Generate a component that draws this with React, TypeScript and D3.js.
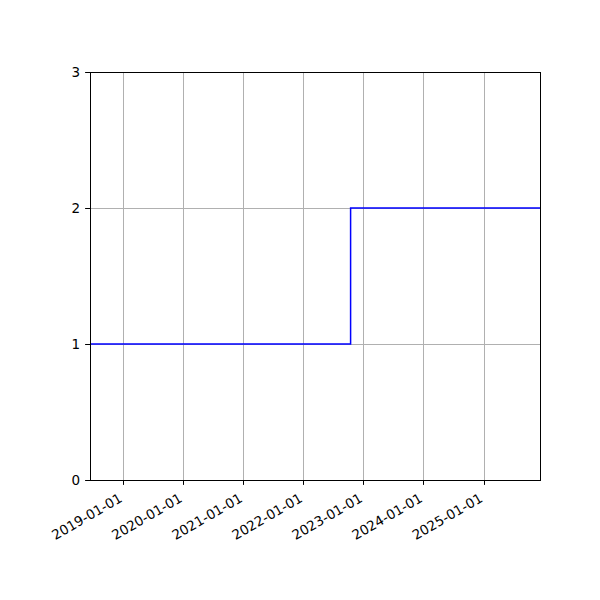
import { useEffect, useRef } from "react";
import * as d3 from "d3";

// step data (value holds until next date)
const dates = ["2018-06-10", "2022-10-12", "2025-12-07"];
const values = [1, 2, 2];
const xTickLabels = [
  "2019-01-01",
  "2020-01-01",
  "2021-01-01",
  "2022-01-01",
  "2023-01-01",
  "2024-01-01",
  "2025-01-01",
];
const yTicks = [0, 1, 2, 3];

export default function App() {
  const ref = useRef<SVGSVGElement>(null);

  useEffect(() => {
    if (!ref.current) return;
    const width = 600;
    const height = 600;
    const m = { left: 90, right: 60, top: 72, bottom: 120 };
    const font = "DejaVu Sans, sans-serif";
    const fs = 13.5;
    const snap = (v: number) => Math.round(v - 0.5) + 0.5;

    const svg = d3.select(ref.current);
    svg.selectAll("*").remove();
    svg.attr("width", width).attr("height", height);

    const parse = d3.utcParse("%Y-%m-%d");
    const pts = dates.map((d, i) => ({ t: parse(d)!, v: values[i] }));
    const tickDates = xTickLabels.map((d) => parse(d)!);

    const x = d3
      .scaleUtc()
      .domain([pts[0].t, pts[pts.length - 1].t])
      .range([m.left, width - m.right]);
    const y = d3.scaleLinear().domain([0, 3]).range([height - m.bottom, m.top]);

    svg.append("rect").attr("width", width).attr("height", height).attr("fill", "#fff");

    const grid = svg.append("g").attr("stroke", "#b0b0b0").attr("stroke-width", 1);
    grid
      .selectAll("line.gx")
      .data(tickDates)
      .join("line")
      .attr("class", "gx")
      .attr("x1", (d) => snap(x(d)))
      .attr("x2", (d) => snap(x(d)))
      .attr("y1", y(0))
      .attr("y2", y(3));
    grid
      .selectAll("line.gy")
      .data(yTicks)
      .join("line")
      .attr("class", "gy")
      .attr("x1", m.left)
      .attr("x2", width - m.right)
      .attr("y1", (d) => snap(y(d)))
      .attr("y2", (d) => snap(y(d)));

    const line = d3
      .line<{ t: Date; v: number }>()
      .x((d) => x(d.t))
      .y((d) => y(d.v))
      .curve(d3.curveStepAfter);

    svg
      .append("path")
      .datum(pts)
      .attr("d", line)
      .attr("fill", "none")
      .attr("stroke", "blue")
      .attr("stroke-width", 1.5);

    svg
      .append("rect")
      .attr("x", m.left + 0.5)
      .attr("y", m.top + 0.5)
      .attr("width", width - m.left - m.right)
      .attr("height", height - m.top - m.bottom)
      .attr("fill", "none")
      .attr("stroke", "#000")
      .attr("stroke-width", 1);

    // x ticks
    const xt = svg.append("g");
    xt.selectAll("line")
      .data(tickDates)
      .join("line")
      .attr("x1", (d) => snap(x(d)))
      .attr("x2", (d) => snap(x(d)))
      .attr("y1", y(0))
      .attr("y2", y(0) + 4.9)
      .attr("stroke", "#000");
    xt.selectAll("text")
      .data(tickDates)
      .join("text")
      .attr("transform", (d) => `translate(${x(d) - 0.5},${y(0) + 21}) rotate(-30)`)
      .attr("text-anchor", "end")
      .attr("font-family", font)
      .attr("font-size", fs)
      .text((_, i) => xTickLabels[i]);

    // y ticks
    const yt = svg.append("g");
    yt.selectAll("line")
      .data(yTicks)
      .join("line")
      .attr("x1", m.left - 4.9)
      .attr("x2", m.left)
      .attr("y1", (d) => snap(y(d)))
      .attr("y2", (d) => snap(y(d)))
      .attr("stroke", "#000");
    yt.selectAll("text")
      .data(yTicks)
      .join("text")
      .attr("x", m.left - 9.8)
      .attr("y", (d) => y(d))
      .attr("dy", "0.35em")
      .attr("text-anchor", "end")
      .attr("font-family", font)
      .attr("font-size", fs)
      .text((d) => String(d));
  }, []);

  return <svg ref={ref} style={{ position: "absolute", left: 0, top: 0 }} />;
}
